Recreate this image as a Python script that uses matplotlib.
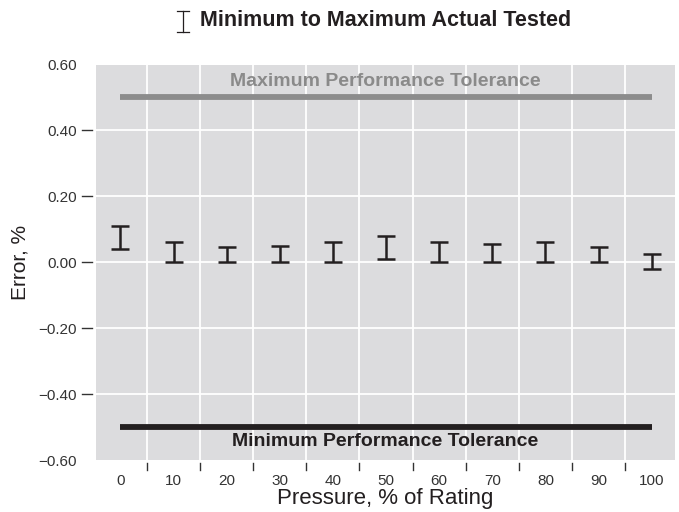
import matplotlib
matplotlib.use("Agg")
import matplotlib.pyplot as plt
from matplotlib.lines import Line2D
import numpy as np

plt.rcParams['font.family'] = ['Liberation Sans', 'DejaVu Sans']

# pressure points, % of rating
pressure = [0, 10, 20, 30, 40, 50, 60, 70, 80, 90, 100]
# tested error range, %
err_min = [0.04, 0.00, 0.00, 0.00, 0.00, 0.01, 0.00, 0.00, 0.00, 0.00, -0.02]
err_max = [0.11, 0.06, 0.045, 0.05, 0.06, 0.08, 0.06, 0.055, 0.06, 0.045, 0.025]
tol_max = 0.50
tol_min = -0.50
yticks = [0.60, 0.40, 0.20, 0.00, -0.20, -0.40, -0.60]

W, H = 679, 512
fig = plt.figure(figsize=(W / 100, H / 100), dpi=100)
ax = fig.add_axes([96 / W, (H - 460) / H, (675 - 96) / W, (460 - 64.5) / H])

dark = '#231f20'
txt = '#333333'
ax.set_facecolor('#dcdcde')
for s in ax.spines.values():
    s.set_visible(False)

x = np.arange(len(pressure))
lo = np.array(err_min)
hi = np.array(err_max)

ax.set_xlim(-0.46, len(pressure) - 0.56)
ax.set_ylim(-0.6, 0.6)

# white grid: horizontal at inner y ticks, vertical between categories
for yv in yticks[1:-1]:
    ax.axhline(yv, color='white', lw=1.3, zorder=1)
for xv in x[:-1] + 0.5:
    ax.axvline(xv, color='white', lw=1.3, zorder=1)

# tolerance limits
ax.plot([x[0], x[-1]], [tol_max, tol_max], color='#8c8c8c', lw=4.2,
        solid_capstyle='butt', zorder=2)
ax.plot([x[0], x[-1]], [tol_min, tol_min], color=dark, lw=4.2,
        solid_capstyle='butt', zorder=2)
ax.text(np.mean(ax.get_xlim()), 0.548, 'Maximum Performance Tolerance',
        ha='center', va='center', fontsize=14, fontweight='bold',
        color='#8a8a8a')
ax.text(np.mean(ax.get_xlim()), -0.543, 'Minimum Performance Tolerance',
        ha='center', va='center', fontsize=14, fontweight='bold', color=dark)

# min to max range bars
ax.errorbar(x, (lo + hi) / 2, yerr=(hi - lo) / 2, fmt='none', ecolor=dark,
            elinewidth=1.8, capsize=6.5, capthick=1.8, zorder=3)

# ticks: labels only, marks drawn separately with a small gap
ax.set_xticks(x)
ax.set_xticklabels([str(p) for p in pressure])
ax.set_yticks(yticks)
ax.set_yticklabels(['%.2f' % v if v >= 0 else '\u2212%.2f' % -v for v in yticks])
ax.tick_params(axis='x', length=0, pad=10, labelsize=11, labelcolor=txt)
ax.tick_params(axis='y', length=0, pad=14, labelsize=11, labelcolor=txt)
for lab in ax.get_xticklabels():
    lab.set_x(lab.get_position()[0])

ytr = ax.get_yaxis_transform()
for yv in yticks[1:-1]:
    ax.add_line(Line2D([-0.024, -0.007], [yv, yv], transform=ytr,
                       color=txt, lw=1.0, clip_on=False))
xtr = ax.get_xaxis_transform()
for xv in x[:-1] + 0.5:
    ax.add_line(Line2D([xv, xv], [-0.008, -0.026], transform=xtr,
                       color=txt, lw=1.0, clip_on=False))

ax.set_xlabel('Pressure, % of Rating', fontsize=16, color=dark, labelpad=0)
ax.set_ylabel('Error, %', fontsize=15, color=dark, labelpad=6)

# key above the plot
fig.text(200 / W, 1 - 21 / H, 'Minimum to Maximum Actual Tested',
         ha='left', va='center', fontsize=15.5, fontweight='bold', color=dark)
kx, ky0, ky1, kw = 183 / W, 1 - 11 / H, 1 - 32 / H, 6 / W
for xs, ys in [([kx, kx], [ky0, ky1]), ([kx - kw, kx + kw], [ky0, ky0]),
               ([kx - kw, kx + kw], [ky1, ky1])]:
    fig.add_artist(Line2D(xs, ys, transform=fig.transFigure, color=dark, lw=0.9))

fig.savefig('out.png', dpi=100)
